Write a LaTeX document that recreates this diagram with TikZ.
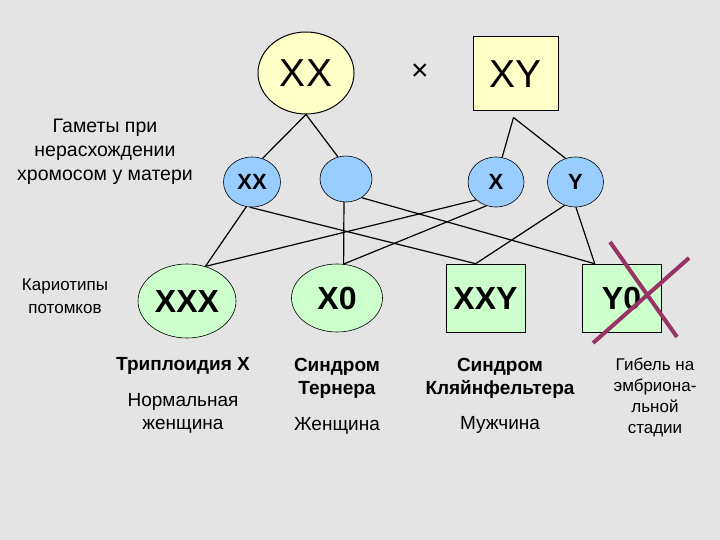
\documentclass[tikz,border=0pt]{standalone}
\usepackage{fontspec}
\setmainfont{Liberation Sans}
\usetikzlibrary{shapes.geometric,calc}
\definecolor{bg}{RGB}{228,228,228}
\definecolor{pyellow}{RGB}{255,255,200}
\definecolor{gblue}{RGB}{153,204,255}
\definecolor{ogreen}{RGB}{204,255,204}
\definecolor{xmark}{RGB}{153,51,102}
\tikzset{
  parentbox/.style={draw=black, line width=1pt, fill=pyellow, inner sep=0pt, font=\fontsize{39}{39}\selectfont},
  gamete/.style={ellipse, draw=black, line width=0.6pt, fill=gblue, inner sep=0pt, font=\bfseries\fontsize{22}{22}\selectfont},
  offspring/.style={draw=black, line width=0.6pt, fill=ogreen, inner sep=0pt, font=\bfseries\fontsize{32}{32}\selectfont},
  link/.style={line width=1.2pt, black},
  txt/.style={align=center, inner sep=0pt, font=\fontsize{19}{23}\selectfont},
  btxt/.style={align=center, inner sep=0pt, font=\bfseries\fontsize{19}{23}\selectfont},
  crossline/.style={line width=4pt, xmark}
}
\begin{document}
\begin{tikzpicture}[x=1pt,y=-1pt]
\fill[bg] (0,0) rectangle (720,540);
\useasboundingbox (0,0) rectangle (720,540);

% parents
\node[parentbox, ellipse, minimum width=96pt, minimum height=82pt] (pXX) at (306,73) {XX};
\node[inner sep=0pt, font=\fontsize{30}{30}\selectfont] (times) at (420,72) {×};
\node[parentbox, rectangle, minimum width=85pt, minimum height=74pt] (pXY) at (515.5,74) {XY};
\coordinate (xyb) at ($(pXY.south)+(-2,6)$);

% gametes
\node[gamete, minimum width=57pt, minimum height=50pt] (gXX) at (252,182) {XX};
\node[gamete, minimum width=52pt, minimum height=46pt] (g0) at (346,179) {};
\node[gamete, minimum width=56pt, minimum height=50pt] (gX) at (496,182) {X};
\node[gamete, minimum width=56pt, minimum height=50pt] (gY) at (575.5,182) {Y};

% offspring
\node[offspring, ellipse, minimum width=98pt, minimum height=74pt] (oXXX) at (187,301) {XXX};
\node[offspring, ellipse, minimum width=91pt, minimum height=68pt] (oX0) at (337,298) {X0};
\node[offspring, rectangle, minimum width=79pt, minimum height=68pt] (oXXY) at (485.5,298) {XXY};
\node[offspring, rectangle, minimum width=79pt, minimum height=68pt] (oY0) at (621.5,298) {Y0};

% parent -> gametes
\draw[link] (pXX.south) -- (gXX.66);
\draw[link] (pXX.south) -- (g0.110);
\draw[link] (xyb) -- (gX.76);
\draw[link] (xyb) -- (gY.113);

% gametes -> offspring
\draw[link] (gXX.-103) -- (oXXX.62);
\draw[link] (gXX.-95) -- (oXXY.106);
\draw[link] (g0.-95) -- (oX0.79);
\draw[link] (g0.-50) -- (oY0.128);
\draw[link] (gX.-138) -- (oXXX.62);
\draw[link] (gX.-112) -- (oX0.79);
\draw[link] (gY.-115) -- (oXXY.106);
\draw[link] (gY.-89) -- (oY0.128);

% cross over Y0
\draw[crossline] (610,242) -- (677,337);
\draw[crossline] (689,258) -- (593,343);

% labels
\node[txt, font=\fontsize{19.5}{24}\selectfont] (lgam) at (105,152) {Гаметы при\\нерасхождении\\хромосом у матери};
\node[txt, font=\fontsize{17}{23}\selectfont] (lkar) at (65,296.5) {Кариотипы\\потомков};

\node[btxt] (s1) at (183,366) {Триплоидия Х};
\node[txt] (d1) at (183,413.5) {Нормальная\\женщина};
\node[btxt] (s2) at (337,378.5) {Синдром\\Тернера};
\node[txt] (d2) at (337,426) {Женщина};
\node[btxt] (s3) at (500,378.5) {Синдром\\Кляйнфельтера};
\node[txt] (d3) at (500,425) {Мужчина};
\node[txt, font=\fontsize{17}{21}\selectfont] (d4) at (655,397) {Гибель на\\эмбриона-\\льной\\стадии};
\end{tikzpicture}
\end{document}
